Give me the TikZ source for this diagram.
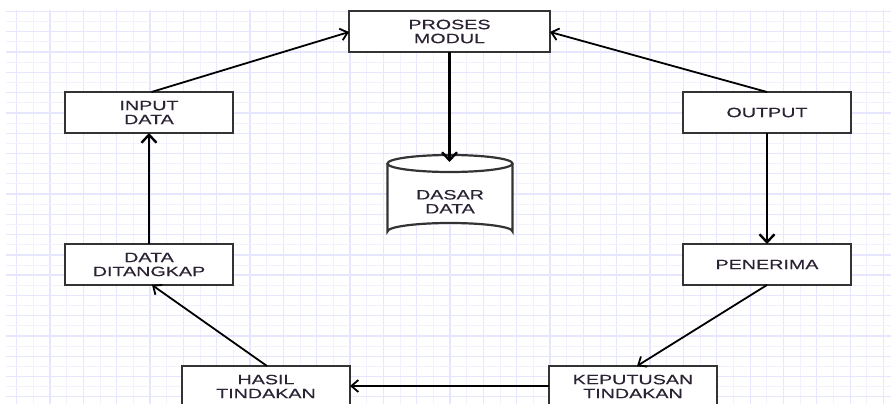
\documentclass[tikz,border=0pt]{standalone}
\usepackage{fontspec}
\usetikzlibrary{arrows.meta}
\newfontfamily\boxfont{Liberation Sans}[FakeStretch=1.46,FakeBold=0.3]

\definecolor{gridmajor}{HTML}{E6E6FF}
\definecolor{gridminor}{HTML}{F2F2FF}
\definecolor{edge}{HTML}{333333}
\definecolor{ink}{HTML}{2B2233}

\tikzset{
  box/.style={draw=edge, line width=2.4pt, fill=white, rectangle,
    minimum width=168pt, minimum height=41pt, inner sep=0pt, outer sep=0pt,
    align=center, text=ink, font=\boxfont\fontsize{13.5}{14}\selectfont},
  label/.style={inner sep=0pt, align=center, text=ink,
    font=\boxfont\fontsize{13.5}{14}\selectfont},
  flow/.style={draw=black, line width=1.8pt,
    -{Straight Barb[length=7pt,width=12pt,line width=1.8pt]}},
  flowthick/.style={draw=black, line width=2.7pt,
    -{Straight Barb[length=8pt,width=15pt,line width=2.4pt]}},
}

\begin{document}
\begin{tikzpicture}[x=1pt,y=-1pt]
\useasboundingbox (0,0) rectangle (891,404);
\clip (0,0) rectangle (891,404);
\fill[white] (0,0) rectangle (891,404);

% background grid
\foreach \k in {1,...,53}{
  \pgfmathsetmacro{\gx}{16.67*\k}
  \ifodd\k
    \draw[gridmajor, line width=1.3pt] (\gx,10) -- (\gx,404);
  \else
    \draw[gridminor, line width=1pt] (\gx,10) -- (\gx,404);
  \fi
}
\foreach \j in {0,...,38}{
  \pgfmathsetmacro{\gy}{11.5+10.14*\j}
  \ifodd\j
    \draw[gridminor, line width=1pt] (6,\gy) -- (891,\gy);
  \else
    \draw[gridmajor, line width=1.3pt] (6,\gy) -- (891,\gy);
  \fi
}

% process boxes
\node[box, minimum width=201pt] (proses) at (449.5,31.5) {PROSES\\MODUL};
\node[box] (input)     at (149,112.5) {INPUT\\DATA};
\node[box] (output)    at (767,112.5) {OUTPUT};
\node[box] (tangkap)   at (149,264.5) {DATA\\DITANGKAP};
\node[box] (penerima)  at (767,264.5) {PENERIMA};
\node[box] (hasil)     at (266,386.5) {HASIL\\TINDAKAN};
\node[box] (keputusan) at (633,386.5) {KEPUTUSAN\\TINDAKAN};

% database cylinder
\fill[white] (387.5,163.5) -- (387.5,231.5)
  arc[start angle=180, end angle=360, x radius=62.5, y radius=8.5]
  -- (512.5,163.5) -- cycle;
\fill[white] (450,163.5) ellipse [x radius=62.5, y radius=8.5];
\draw[edge, line width=2.2pt] (387.5,163.5) -- (387.5,231.5)
  arc[start angle=180, end angle=360, x radius=62.5, y radius=8.5]
  -- (512.5,163.5);
\draw[edge, line width=2.2pt] (450,163.5) ellipse [x radius=62.5, y radius=8.5];
\node[label] (db) at (450,201.7) {DASAR\\DATA};
\coordinate (dbtop) at (449.5,162);

% connectors
\draw[flow] ([xshift=2.5pt]input.north) -- ([yshift=-0.5pt]proses.west);
\draw[flow] (output.north) -- ([yshift=-0.5pt]proses.east);
\draw[flowthick] (proses.south) -- (dbtop);
\draw[flowthick] (output.south) -- (penerima.north);
\draw[flow] (penerima.south) -- ([xshift=4pt]keputusan.north);
\draw[flow] ([yshift=0.5pt]keputusan.west) -- ([yshift=0.5pt]hasil.east);
\draw[flow] ([xshift=1pt]hasil.north) -- ([xshift=3pt]tangkap.south);
\draw[flowthick] (tangkap.north) -- (input.south);
\end{tikzpicture}
\end{document}
